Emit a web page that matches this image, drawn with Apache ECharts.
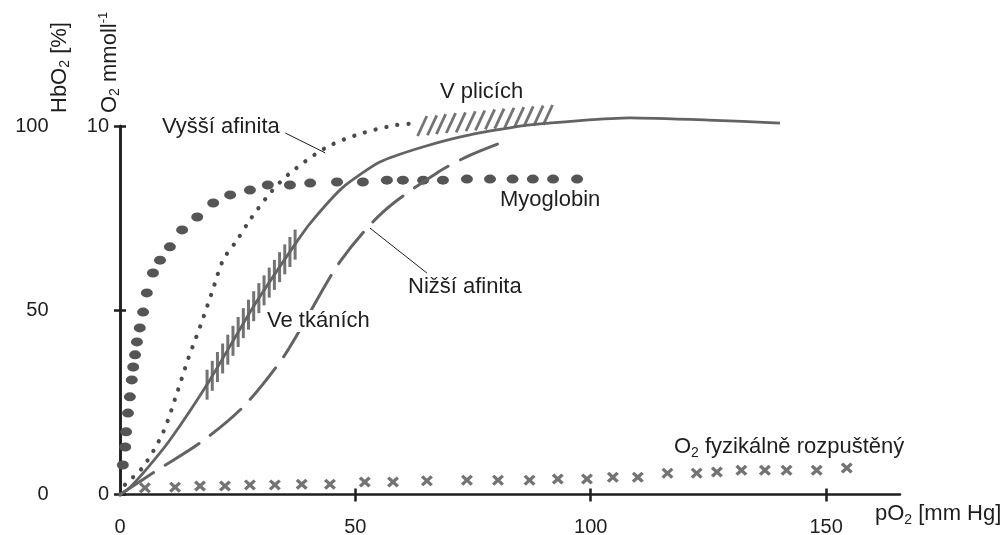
<!DOCTYPE html>
<html>
<head>
<meta charset="utf-8">
<script src="https://cdn.jsdelivr.net/npm/echarts@6/dist/echarts.min.js"></script>
<style>
  html, body { margin: 0; padding: 0; background: #fff; }
  #chart { width: 1000px; height: 535px; }
</style>
</head>
<body>
<div id="chart"></div>
<script>
// hemoglobin, normal (solid)
const hbX = [0, 1.5, 4.9, 10.6, 19.1, 28.3, 36.8, 40.4, 47.4, 55.2, 64.3, 74.3, 87.1, 108.4, 125, 140.2];
const hbY = [0, 1.2, 5.8, 14.8, 31.1, 50.9, 67.2, 73.6, 83.4, 90.2, 94.3, 97.6, 100.3, 102.2, 101.6, 100.8];

// vyssi afinita (dotted)
const hiX = [0, 0.6, 4.9, 9.1, 12.1, 14.4, 17.0, 19.5, 21.9, 24.9, 27.6, 31.9, 36.1, 44.0, 51.6, 58.8, 62.0];
const hiY = [0, 2.0, 7.5, 16.7, 27.5, 36.5, 45.5, 54.7, 63.6, 69.1, 74.5, 81.8, 87.2, 94.3, 98.1, 100.3, 100.6];

// nizsi afinita (dashed)
const loX = [0, 7.9, 17.0, 26.1, 34.0, 38.2, 46.7, 55.9, 67.6, 74.4, 81.4];
const loY = [0, 6.6, 14.0, 23.7, 36.0, 44.6, 63.1, 76.7, 87.5, 92.1, 95.7];

// myoglobin (big dots)
const myoX = [0.6, 1.1, 1.3, 1.7, 2.1, 2.5, 2.8, 3.2, 3.6, 4.2, 4.9, 5.7, 7.0, 8.5, 10.6, 13.2, 16.4, 19.8, 23.4, 27.6,
              31.4, 36.1, 40.4, 46.1, 51.6, 56.7, 60.1, 64.4, 68.6, 73.7, 78.6, 83.4, 87.7, 92.0, 97.1];
const myoY = [8.0, 12.9, 17.0, 22.1, 26.5, 31.1, 34.6, 37.9, 41.4, 45.2, 49.5, 54.7, 60.1, 63.6, 67.2, 71.8, 75.3, 79.1, 81.3, 82.6,
              84.0, 84.0, 84.5, 84.8, 84.8, 85.3, 85.3, 85.3, 85.3, 85.6, 85.6, 85.6, 85.6, 85.6, 85.6];

// hatched zone "Ve tkanich"
const tisX = [18.5, 19.6, 20.7, 21.8, 22.9, 24.0, 25.1, 26.2, 27.3, 28.4, 29.5, 30.6, 31.7, 32.8, 33.9, 35.0, 36.1, 37.2];
const tisY = [29.8, 32.2, 34.6, 36.9, 39.3, 41.7, 44.1, 46.5, 48.8, 51.1, 53.3, 55.4, 57.5, 59.6, 61.7, 63.8, 65.8, 67.8];

// hatched zone "V plicich"
const lungX = [64.2, 66.3, 68.2, 70.3, 72.4, 74.5, 76.5, 78.6, 80.6, 82.7, 84.8, 86.8, 88.9, 90.9];
const lungY = [100.0, 100.2, 100.5, 100.8, 101.0, 101.3, 101.5, 101.8, 102.0, 102.2, 102.4, 102.6, 102.8, 103.0];

// O2 physically dissolved (crosses)
const dissX = [5.3, 11.7, 17.0, 22.3, 27.6, 32.9, 38.6, 44.6, 52.0, 58.0, 65.2, 73.7, 80.3, 87.0, 93.0, 99.2,
               104.7, 110.0, 116.3, 122.5, 126.8, 132.0, 137.0, 141.6, 148.0, 154.4];
const dissY = [1.8, 2.0, 2.3, 2.3, 2.6, 2.6, 2.8, 2.8, 3.4, 3.4, 3.7, 3.9, 3.9, 3.9, 4.2, 4.2,
               4.7, 4.7, 5.8, 5.8, 6.1, 6.6, 6.6, 6.6, 6.6, 7.2];

const xLabels = [0, 50, 100, 150];
const xTicks = [50, 100, 150];

const zip = (a, b) => a.map((v, i) => [v, b[i]]);
const FONT = '"Liberation Sans", Arial, Helvetica, sans-serif';
const INK = '#1e1e1e';
const GRAY = '#636363';

const rich = {
  a: { fontSize: 22, fontFamily: FONT, color: INK },
  s: { fontSize: 14, fontFamily: FONT, color: INK, padding: [12, 0, 0, 0] },
  u: { fontSize: 13, fontFamily: FONT, color: INK, padding: [0, 0, 12, 0] }
};

function label (x, y, text, extra) {
  return {
    type: 'text', x: x, y: y, z: 100,
    style: Object.assign({ text: text, rich: rich, font: '22px ' + FONT, fill: INK, align: 'left', verticalAlign: 'middle' }, extra || {})
  };
}

const chart = echarts.init(document.getElementById('chart'), null, { renderer: 'canvas' });

const baseY = {
  type: 'value', position: 'left', min: 0, splitLine: { show: false },
  axisLine: { show: true, lineStyle: { color: INK, width: 2.5 } }
};

chart.setOption({
  animation: false,
  backgroundColor: '#fff',
  grid: { left: 120, right: 100, top: 126, bottom: 40.5, containLabel: false, outerBoundsMode: 'none' },
  xAxis: [
    {
      type: 'value', min: 0, max: 165.7, position: 'bottom',
      splitLine: { show: false },
      axisLine: { lineStyle: { color: INK, width: 2.5 } },
      axisTick: { show: true, length: 7, customValues: xTicks, lineStyle: { color: INK, width: 2.5 } },
      axisLabel: { customValues: xLabels, fontSize: 20, fontFamily: FONT, color: INK, margin: 23 }
    },
    {
      type: 'value', min: 0, max: 165.7, position: 'bottom',
      splitLine: { show: false }, axisLine: { show: false }, axisLabel: { show: false },
      axisTick: { show: true, inside: true, length: 6, customValues: xTicks, lineStyle: { color: INK, width: 2.5 } }
    }
  ],
  yAxis: [
    Object.assign({}, baseY, {
      max: 100, interval: 50, offset: 51.5,
      axisTick: { show: true, length: 6, lineStyle: { color: INK, width: 2.5 } },
      axisLabel: { fontSize: 20, fontFamily: FONT, color: INK, margin: 20 }
    }),
    Object.assign({}, baseY, {
      max: 100, interval: 50, offset: 51.5,
      axisLine: { show: false }, axisLabel: { show: false },
      axisTick: { show: true, inside: true, length: 6, lineStyle: { color: INK, width: 2.5 } }
    }),
    Object.assign({}, baseY, {
      max: 10, interval: 10, offset: 0,
      axisTick: { show: true, length: 6, customValues: [10], lineStyle: { color: INK, width: 2.5 } },
      axisLabel: { fontSize: 20, fontFamily: FONT, color: INK, margin: 11 }
    }),
    Object.assign({}, baseY, {
      max: 10, interval: 10, offset: 0,
      axisLine: { show: false }, axisLabel: { show: false },
      axisTick: { show: true, inside: true, length: 6, customValues: [10], lineStyle: { color: INK, width: 2.5 } }
    })
  ],
  series: [
    {
      name: 'Myoglobin', type: 'scatter', clip: false,
      data: zip(myoX, myoY),
      symbol: 'circle', symbolSize: [12, 9],
      itemStyle: { color: '#555', opacity: 1 }
    },
    {
      name: 'Vyšší afinita', type: 'line', clip: false, smooth: 0.3,
      showSymbol: false, symbol: 'none',
      data: zip(hiX, hiY),
      lineStyle: { color: '#4a4a4a', width: 4.2, type: [0.1, 11], cap: 'round' }
    },
    {
      name: 'Hb', type: 'line', clip: false, smooth: 0.2,
      showSymbol: false, symbol: 'none',
      data: zip(hbX, hbY),
      lineStyle: { color: GRAY, width: 2.8 },
      markLine: {
        silent: true, symbol: ['none', 'none'], label: { show: false },
        lineStyle: { color: INK, width: 1, type: 'solid' },
        data: [
          [{ coord: [35.1, 98.1] }, { coord: [43.6, 92.7] }],
          [{ coord: [53.1, 72.3] }, { coord: [65.2, 60.1] }]
        ]
      }
    },
    {
      name: 'Nižší afinita', type: 'line', clip: false, smooth: 0.3,
      showSymbol: false, symbol: 'none',
      data: zip(loX, loY),
      lineStyle: { color: GRAY, width: 3, type: [40, 14], cap: 'round' }
    },
    {
      name: 'Ve tkáních', type: 'scatter', clip: false,
      data: zip(tisX, tisY),
      symbol: 'rect', symbolSize: [3, 30], symbolRotate: 0,
      itemStyle: { color: '#505050' }
    },
    {
      name: 'V plicích', type: 'scatter', clip: false,
      data: zip(lungX, lungY),
      symbol: 'rect', symbolSize: [2.8, 22], symbolRotate: -25,
      itemStyle: { color: '#505050' }
    },
    {
      name: 'O2 fyzikálně rozpuštěný', type: 'scatter', clip: false,
      data: zip(dissX, dissY),
      symbol: 'path://M0,2 L2,0 L5,3 L8,0 L10,2 L7,5 L10,8 L8,10 L5,7 L2,10 L0,8 L3,5 Z',
      symbolSize: [12, 11],
      itemStyle: { color: '#505050' }
    }
  ],
  graphic: [
    label(162, 127, 'Vyšší afinita'),
    label(440, 92, 'V plicích'),
    label(500, 200, 'Myoglobin'),
    label(408, 287, 'Nižší afinita'),
    label(265, 321, 'Ve tkáních', { backgroundColor: '#fff', padding: [0, 2] }),
    label(674, 447, '{a|O}{s|2}{a| fyzikálně rozpuštěný}'),
    label(875, 514, '{a|pO}{s|2}{a| [mm Hg]}'),
    Object.assign(label(59.5, 113, '{a|HbO}{s|2}{a| [%]}'), { rotation: Math.PI / 2 }),
    Object.assign(label(109.5, 113, '{a|O}{s|2}{a| mmoll}{u|-1}'), { rotation: Math.PI / 2 })
  ]
});
</script>
</body>
</html>
